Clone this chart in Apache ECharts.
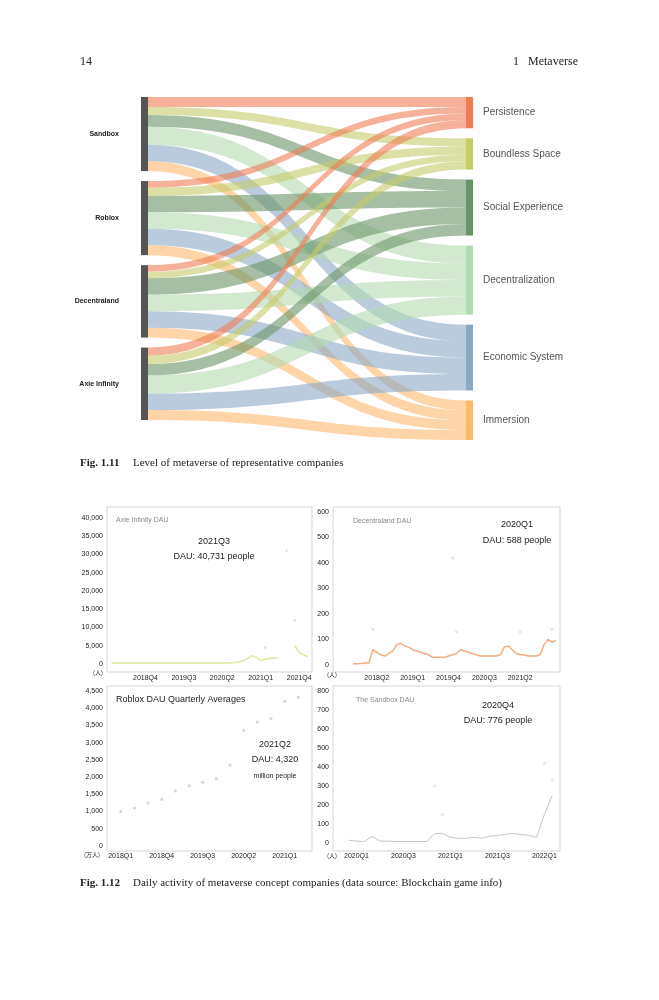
<!DOCTYPE html>
<html>
<head>
<meta charset="utf-8">
<script src="https://cdn.jsdelivr.net/npm/echarts@6/dist/echarts.min.js"></script>
<style>html,body{margin:0;padding:0;background:#fff}#chart{width:659px;height:1000px}</style>
</head>
<body>
<div id="chart"></div>
<script>
  // Instanciar el gráfico
  const chart = echarts.init(document.getElementById("chart"), null, { renderer: "canvas" });

  const targets = [
    { name: "Persistence", color: "#ee7d55" },
    { name: "Boundless Space", color: "#c6cc6a" },
    { name: "Social Experience", color: "#6a9468" },
    { name: "Decentralization", color: "#b4dbb0" },
    { name: "Economic System", color: "#8aa8c4" },
    { name: "Immersion", color: "#fbb96e" },
  ];
  const sources = ["Sandbox", "Roblox", "Decentraland", "Axie Infinity"];
  // pesos de cada empresa por dimensión
  const weights = {
    Sandbox: [30, 25, 35, 55, 50, 30],
    Roblox: [20, 25, 50, 50, 50, 30],
    Decentraland: [20, 20, 50, 50, 50, 30],
    "Axie Infinity": [25, 25, 35, 55, 50, 30],
  };

  const nodes = sources
    .map((s) => ({
      name: s,
      itemStyle: { color: "#555" },
      label: { position: "left", fontSize: 7, fontWeight: "bold", color: "#222", distance: 22 },
    }))
    .concat(
      targets.map((t) => ({
        name: t.name,
        itemStyle: { color: t.color },
        label: { position: "right", fontSize: 10, color: "#555", distance: 10 },
      }))
    );
  const links = [];
  sources.forEach((s) => {
    targets.forEach((t, i) => {
      links.push({ source: s, target: t.name, value: weights[s][i], lineStyle: { color: t.color } });
    });
  });

  const months = (y0, m0, n) => {
    const out = [];
    for (let k = 0; k < n; k++) {
      const m = m0 - 1 + k;
      out.push(y0 + Math.floor(m / 12) + "-" + String((m % 12) + 1).padStart(2, "0"));
    }
    return out;
  };
  const quarterLabel = (v) => {
    const [y, m] = v.split("-");
    return y + "Q" + Math.ceil(Number(m) / 3);
  };
  const labelEvery = (list) => (idx, v) => list.includes(v);

  // Axie Infinity (mensual, 2018-01 .. 2022-01)
  const axieMonths = months(2018, 1, 49);
  const axieVals = [
    null, 250, 250, 260, 260, 250, 250, 260, 260, 250, 250, 260,
    260, 250, 260, 260, 250, 250, 260, 260, 250, 260, 260, 260,
    270, 280, 270, 280, 300, 320, 400, 600, 900, 1600, 2300, 1800,
    900, 1300, 1500, 1600, 1700, null, null, null, 5000, 3200, 2500, 2000, null,
  ];
  const axieSpikes = [["2021-02", 4500], ["2021-07", 31000], ["2021-09", 12000]];

  // Decentraland (mensual, 2017-05 .. 2022-02)
  const decMonths = months(2017, 5, 58);
  const decVals = [
    null, null, null, null, null, 5, 5, 6, 8, 8,
    60, 50, 40, 35, 45, 55, 80, 85, 75, 70,
    60, 55, 50, 45, 40, 30, 30, 30, 30, 35, 40, 45,
    60, 55, 50, 45, 40, 35, 35, 35, 35, 35, 40, 70,
    75, 60, 45, 40, 40, 35, 35, 35, 40, 80, 100, 90, 95, null,
  ];
  const decSpikes = [["2018-03", 140], ["2019-11", 420], ["2019-12", 130], ["2021-04", 130], ["2021-12", 140]];

  // Roblox (trimestral, 2017Q4 .. 2021Q3)
  const robQuarters = ["2017Q4", "2018Q1", "2018Q2", "2018Q3", "2018Q4", "2019Q1", "2019Q2", "2019Q3",
    "2019Q4", "2020Q1", "2020Q2", "2020Q3", "2020Q4", "2021Q1", "2021Q2", "2021Q3"];
  const robVals = [null, 1000, 1100, 1250, 1350, 1600, 1750, 1850, 1950, 2350, 3350, 3600, 3700, 4200, 4320, null];

  // The Sandbox (mensual, 2019-10 .. 2022-03)
  const sbMonths = months(2019, 10, 30);
  const sbVals = [
    null, null, 15, 10, 8, 35, 10, 10, 8, 8, 8, 8, 8, 50, 50,
    30, 25, 25, 30, 25, 35, 40, 45, 50, 45, 40, 30, 150, 250, null,
  ];
  const sbSpikes = [["2020-11", 300], ["2020-12", 150], ["2022-01", 420], ["2022-02", 330]];

  const grids = [
    { left: 107, top: 518, width: 205, height: 146 },
    { left: 333, top: 512, width: 227, height: 153 },
    { left: 107, top: 691, width: 205, height: 155 },
    { left: 333, top: 691, width: 227, height: 152 },
  ];
  const axisFont = { fontSize: 7, color: "#222" };
  const yAxis = (gi, max, interval) => ({
    gridIndex: gi, type: "value", min: 0, max, interval,
    splitLine: { show: false }, axisLine: { show: false }, axisTick: { show: false },
    axisLabel: { ...axisFont, margin: 4, formatter: (v) => v.toLocaleString("en-US") },
  });
  const xAxis = (gi, data, shown, fmt, margin) => ({
    gridIndex: gi, type: "category", data, boundaryGap: false,
    axisLine: { show: false }, axisTick: { show: false },
    axisLabel: { ...axisFont, margin, interval: labelEvery(shown), formatter: fmt },
  });

  const boxes = [[107, 507, 205, 165], [333, 507, 227, 165], [107, 686, 205, 165], [333, 686, 227, 165]].map(
    ([x, y, w, h]) => ({ type: "rect", shape: { x, y, width: w, height: h }, style: { fill: "none", stroke: "#d6d6d6", lineWidth: 1 }, z: -1 })
  );
  const txt = (x, y, text, opts = {}) => ({
    type: "text", x, y,
    style: { text, fill: opts.fill || "#222", font: opts.font || "9px 'Liberation Sans', Arial", align: opts.align || "left", verticalAlign: "middle" },
  });
  const serif = "'Liberation Serif', 'DejaVu Serif', serif";

  const option = {
    animation: false,
    grid: grids,
    xAxis: [
      xAxis(0, axieMonths, ["2018-10", "2019-07", "2020-04", "2021-01", "2021-10"], quarterLabel, 11),
      xAxis(1, decMonths, ["2018-04", "2019-01", "2019-10", "2020-07", "2021-04"], quarterLabel, 10),
      xAxis(2, robQuarters, ["2018Q1", "2018Q4", "2019Q3", "2020Q2", "2021Q1"], (v) => v, 7),
      xAxis(3, sbMonths, ["2020-01", "2020-07", "2021-01", "2021-07", "2022-01"], quarterLabel, 10),
    ],
    yAxis: [yAxis(0, 40000, 5000), yAxis(1, 600, 100), yAxis(2, 4500, 500), yAxis(3, 800, 100)],
    series: [
      {
        type: "sankey",
        left: 141, top: 97, width: 332, height: 343,
        nodeWidth: 7, nodeGap: 10, layoutIterations: 0, draggable: false,
        data: nodes, links,
        lineStyle: { opacity: 0.6, curveness: 0.5 },
        emphasis: { disabled: true },
      },
      { type: "line", xAxisIndex: 0, yAxisIndex: 0, data: axieVals, showSymbol: false, lineStyle: { color: "#e3e89a", width: 1.5 } },
      { type: "scatter", xAxisIndex: 0, yAxisIndex: 0, data: axieSpikes, symbolSize: 3, itemStyle: { color: "#ddd" } },
      { type: "line", xAxisIndex: 1, yAxisIndex: 1, data: decVals, showSymbol: false, lineStyle: { color: "#f2ad80", width: 1.5 } },
      { type: "scatter", xAxisIndex: 1, yAxisIndex: 1, data: decSpikes, symbolSize: 3, itemStyle: { color: "#ddd" } },
      { type: "scatter", xAxisIndex: 2, yAxisIndex: 2, data: robVals, symbolSize: 3, itemStyle: { color: "#ccc" } },
      { type: "line", xAxisIndex: 3, yAxisIndex: 3, data: sbVals, showSymbol: false, lineStyle: { color: "#c4c4c4", width: 1 } },
      { type: "scatter", xAxisIndex: 3, yAxisIndex: 3, data: sbSpikes, symbolSize: 3, itemStyle: { color: "#ddd" } },
    ],
    graphic: boxes.concat([
      txt(80, 62, "14", { font: "12px " + serif }),
      txt(578, 62, "1   Metaverse", { font: "12px " + serif, align: "right" }),
      txt(80, 463, "Fig. 1.11", { font: "bold 11px " + serif }),
      txt(133, 463, "Level of metaverse of representative companies", { font: "11px " + serif }),
      txt(80, 883, "Fig. 1.12", { font: "bold 11px " + serif }),
      txt(133, 883, "Daily activity of metaverse concept companies (data source: Blockchain game info)", { font: "11px " + serif }),
      txt(116, 520, "Axie Infinity DAU", { fill: "#888", font: "7px 'Liberation Sans', Arial" }),
      txt(214, 542, "2021Q3"),
      txt(214, 557, "DAU: 40,731 people", { align: "center" }),
      txt(353, 521, "Decentraland DAU", { fill: "#888", font: "7px 'Liberation Sans', Arial" }),
      txt(517, 525, "2020Q1", { align: "center" }),
      txt(517, 541, "DAU: 588 people", { align: "center" }),
      txt(116, 700, "Roblox DAU Quarterly Averages"),
      txt(275, 745, "2021Q2", { align: "center" }),
      txt(275, 760, "DAU: 4,320", { align: "center" }),
      txt(275, 776, "million people", { align: "center", font: "7px 'Liberation Sans', Arial" }),
      txt(356, 700, "The Sandbox DAU", { fill: "#888", font: "7px 'Liberation Sans', Arial" }),
      txt(498, 706, "2020Q4", { align: "center" }),
      txt(498, 721, "DAU: 776 people", { align: "center" }),
      txt(93, 673, "(人)", { font: "6px 'Noto Sans CJK SC'" }),
      txt(327, 675, "(人)", { font: "6px 'Noto Sans CJK SC'" }),
      txt(84, 855, "(万人)", { font: "6px 'Noto Sans CJK SC'" }),
      txt(327, 856, "(人)", { font: "6px 'Noto Sans CJK SC'" }),
    ]).map((g) => g),
  };
  // "2021Q3" centrado
  option.graphic.find((g) => g.style && g.style.text === "2021Q3").style.align = "center";

  chart.setOption(option);
</script>
</body>
</html>
